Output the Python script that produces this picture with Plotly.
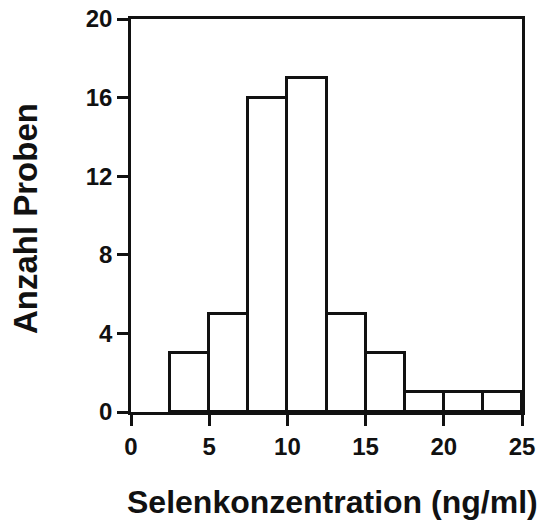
import plotly.graph_objects as go

# Histogram data: left edge of each bin (ng/ml) and sample counts
bin_left = [2.5, 5.0, 7.5, 10.0, 12.5, 15.0, 17.5, 20.0, 22.5]
counts = [3, 5, 16, 17, 5, 3, 1, 1, 1]
bin_width = 2.5

x_ticks = [0, 5, 10, 15, 20, 25]
y_ticks = [0, 4, 8, 12, 16, 20]

x_title = "Selenkonzentration (ng/ml)"
y_title = "Anzahl Proben"

FONT = "Liberation Sans, Arial, sans-serif"
INK = "#111111"

fig = go.Figure()
fig.add_trace(go.Bar(
    x=bin_left,
    y=counts,
    width=[bin_width] * len(bin_left),
    offset=0,
    marker=dict(color="white", line=dict(color=INK, width=3)),
    showlegend=False,
))

axis_common = dict(
    showgrid=False,
    zeroline=False,
    showline=True,
    linecolor=INK,
    linewidth=2.5,
    mirror=True,
    ticks="outside",
    ticklen=11,
    tickwidth=2.5,
    tickcolor=INK,
    automargin=False,
    tickfont=dict(family=FONT, size=24, color=INK, weight=700),
)

fig.update_xaxes(range=[0, 25], tickvals=x_ticks, ticktext=[str(v) for v in x_ticks], **axis_common)
fig.update_yaxes(range=[0, 20], tickvals=y_ticks, ticktext=[str(v) for v in y_ticks], **axis_common)

fig.update_layout(
    width=545,
    height=526,
    margin=dict(l=131, r=23, t=19, b=114),
    paper_bgcolor="white",
    plot_bgcolor="white",
    bargap=0,
    annotations=[
        dict(text=x_title, xref="paper", yref="paper", x=0.515, y=-0.23,
             xanchor="center", yanchor="middle", showarrow=False,
             font=dict(family=FONT, size=32, color=INK, weight=700)),
        dict(text=y_title, xref="paper", yref="paper", x=-0.27, y=0.492,
             xanchor="center", yanchor="middle", showarrow=False, textangle=-90,
             font=dict(family=FONT, size=33, color=INK, weight=700)),
    ],
)

fig.write_html("out.html", config={"displayModeBar": False},
               post_script="document.body.style.margin='0';document.body.style.overflow='hidden';")
